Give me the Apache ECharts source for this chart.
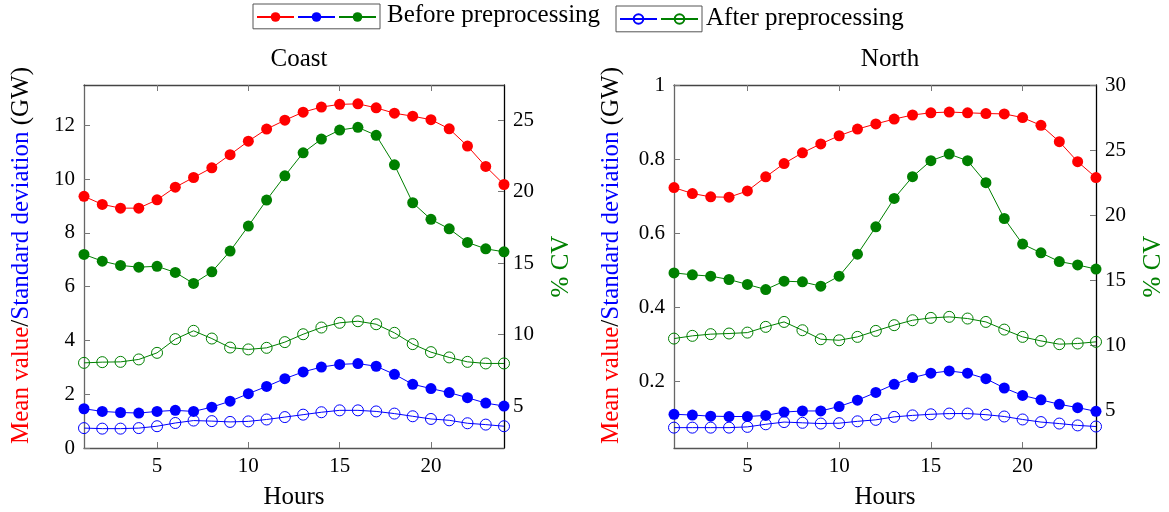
<!DOCTYPE html>
<html>
<head>
<meta charset="utf-8">
<style>
  html, body { margin: 0; padding: 0; background: #fff; }
  #chart { width: 1169px; height: 512px; }
</style>
<script src="https://cdn.jsdelivr.net/npm/echarts@6/dist/echarts.min.js"></script>
</head>
<body>
<div id="chart"></div>
<script>
// Hours of the day
const hours = [1, 2, 3, 4, 5, 6, 7, 8, 9, 10, 11, 12, 13, 14, 15, 16, 17, 18, 19, 20, 21, 22, 23, 24];

// Coast region (GW and % CV)
const coastMean      = [9.36, 9.06, 8.92, 8.92, 9.23, 9.70, 10.06, 10.42, 10.91, 11.41, 11.86, 12.19, 12.49, 12.68, 12.78, 12.80, 12.65, 12.45, 12.34, 12.21, 11.87, 11.23, 10.47, 9.80];
const coastStdBefore = [1.46, 1.36, 1.32, 1.30, 1.36, 1.40, 1.36, 1.52, 1.74, 2.02, 2.29, 2.58, 2.83, 3.01, 3.11, 3.14, 3.04, 2.74, 2.37, 2.21, 2.06, 1.87, 1.67, 1.56];
const coastStdAfter  = [0.74, 0.72, 0.72, 0.74, 0.81, 0.93, 1.02, 1.00, 0.97, 0.99, 1.06, 1.15, 1.24, 1.33, 1.40, 1.40, 1.36, 1.28, 1.18, 1.08, 1.03, 0.92, 0.87, 0.81];
const coastCvBefore  = [15.61, 15.14, 14.84, 14.72, 14.78, 14.35, 13.58, 14.39, 15.84, 17.59, 19.41, 21.10, 22.71, 23.67, 24.30, 24.49, 23.93, 21.87, 19.22, 18.06, 17.40, 16.45, 16.00, 15.79];
const coastCvAfter   = [8.03, 8.08, 8.10, 8.27, 8.73, 9.69, 10.27, 9.73, 9.10, 8.97, 9.08, 9.48, 10.03, 10.50, 10.83, 10.94, 10.73, 10.13, 9.34, 8.78, 8.41, 8.10, 7.99, 7.99];

// North region (GW and % CV)
const northMean      = [0.723, 0.707, 0.698, 0.697, 0.714, 0.752, 0.788, 0.817, 0.841, 0.863, 0.881, 0.895, 0.908, 0.919, 0.925, 0.927, 0.925, 0.923, 0.922, 0.912, 0.891, 0.847, 0.793, 0.750];
const northStdBefore = [0.111, 0.109, 0.106, 0.105, 0.105, 0.108, 0.117, 0.120, 0.120, 0.132, 0.149, 0.170, 0.192, 0.210, 0.222, 0.228, 0.222, 0.207, 0.182, 0.162, 0.150, 0.138, 0.129, 0.119];
const northStdAfter  = [0.075, 0.075, 0.075, 0.075, 0.077, 0.084, 0.090, 0.088, 0.086, 0.087, 0.092, 0.096, 0.104, 0.108, 0.111, 0.113, 0.113, 0.110, 0.105, 0.097, 0.090, 0.086, 0.081, 0.078];
const northCvBefore  = [15.56, 15.41, 15.31, 15.05, 14.67, 14.28, 14.92, 14.87, 14.54, 15.31, 17.00, 19.10, 21.28, 22.95, 24.18, 24.69, 24.18, 22.49, 19.74, 17.77, 17.10, 16.43, 16.17, 15.85];
const northCvAfter   = [10.51, 10.72, 10.85, 10.90, 10.97, 11.41, 11.79, 11.15, 10.46, 10.38, 10.64, 11.10, 11.54, 11.92, 12.10, 12.18, 12.05, 11.79, 11.20, 10.64, 10.33, 10.08, 10.13, 10.26];

// Tick labels
const hourTicks     = [5, 10, 15, 20];
const coastGwTicks  = [0, 2, 4, 6, 8, 10, 12];
const coastCvTicks  = [5, 10, 15, 20, 25];
const northGwTicks  = [0.2, 0.4, 0.6, 0.8, 1];
const northCvTicks  = [5, 10, 15, 20, 25, 30];

const FONT = 'Liberation Serif';
const TXT = 25;   // titles, axis names, legend labels
const TICK = 21;  // tick labels
const RED = '#ff0000', BLUE = '#0000ff', GREEN = '#008000';

const NAMES = {
  mean: 'Mean value (before)',
  stdB: 'Standard deviation (before)',
  cvB: '% CV (before)',
  stdA: 'Standard deviation (after)',
  cvA: '% CV (after)'
};

function pairs(ys) { return hours.map((h, i) => [h, ys[i]]); }

function xAxes(gridIndex) {
  const base = {
    type: 'value', gridIndex, min: 1, max: 24,
    splitLine: { show: false },
    axisTick: { show: true, inside: true, length: 6, customValues: hourTicks, lineStyle: { color: '#777', width: 1 } }
  };
  return [
    Object.assign({}, base, {
      position: 'bottom',
      name: 'Hours', nameLocation: 'middle', nameGap: 37,
      nameTextStyle: { fontFamily: FONT, fontSize: TXT, color: '#000' },
      axisLine: { show: true, lineStyle: { color: '#555', width: 1.3 } },
      axisLabel: { show: true, customValues: hourTicks, margin: 8, fontFamily: FONT, fontSize: TICK, color: '#000' }
    }),
    Object.assign({}, base, {
      position: 'top',
      axisLine: { show: true, lineStyle: { color: '#444', width: 1.3 } },
      axisLabel: { show: false }
    })
  ];
}

function yAxes(gridIndex, gw, cv, gwTicks, cvTicks) {
  return [
    {
      type: 'value', gridIndex, position: 'left', min: gw[0], max: gw[1],
      splitLine: { show: false },
      axisLine: { show: true, lineStyle: { color: '#666', width: 1.3 } },
      axisTick: { show: true, inside: true, length: 6, customValues: gwTicks, lineStyle: { color: '#777' } },
      axisLabel: { customValues: gwTicks, margin: 9, fontFamily: FONT, fontSize: TICK, color: '#000' },
      name: '{r|Mean value}{k|/}{b|Standard deviation}{k| (GW)}',
      nameLocation: 'middle', nameGap: 50, nameRotate: 90,
      nameTextStyle: {
        fontFamily: FONT, fontSize: TXT,
        padding: [0, 0, 0, 22],
        rich: {
          r: { color: RED, fontFamily: FONT, fontSize: TXT },
          b: { color: BLUE, fontFamily: FONT, fontSize: TXT },
          k: { color: '#000', fontFamily: FONT, fontSize: TXT }
        }
      }
    },
    {
      type: 'value', gridIndex, position: 'right', min: cv[0], max: cv[1],
      splitLine: { show: false },
      axisLine: { show: true, lineStyle: { color: '#000', width: 1.3 } },
      axisTick: { show: true, inside: true, length: 6, customValues: cvTicks, lineStyle: { color: '#777' } },
      axisLabel: { customValues: cvTicks, margin: 9, fontFamily: FONT, fontSize: TICK, color: '#000' },
      name: '% CV', nameLocation: 'middle', nameGap: 45, nameRotate: 90,
      nameTextStyle: { fontFamily: FONT, fontSize: TXT, color: GREEN }
    }
  ];
}

function filled(name, color, data, xi, yi) {
  return {
    type: 'line', name, xAxisIndex: xi, yAxisIndex: yi, data: pairs(data),
    symbol: 'circle', symbolSize: 11, animation: false,
    lineStyle: { color, width: 1 },
    itemStyle: { color }
  };
}
function hollow(name, color, data, xi, yi) {
  return {
    type: 'line', name, xAxisIndex: xi, yAxisIndex: yi, data: pairs(data),
    symbol: 'circle', symbolSize: 11, animation: false,
    lineStyle: { color, width: 1 },
    itemStyle: { color: 'rgba(0,0,0,0)', borderColor: color, borderWidth: 1 }
  };
}

function regionSeries(xi, yl, yr, mean, stdB, cvB, stdA, cvA) {
  return [
    filled(NAMES.mean, RED, mean, xi, yl),
    filled(NAMES.stdB, BLUE, stdB, xi, yl),
    filled(NAMES.cvB, GREEN, cvB, xi, yr),
    hollow(NAMES.stdA, BLUE, stdA, xi, yl),
    hollow(NAMES.cvA, GREEN, cvA, xi, yr)
  ];
}

const legendBase = {
  orient: 'horizontal', itemWidth: 37, itemHeight: 12, itemGap: 2,
  borderColor: '#555', borderWidth: 1, borderRadius: 0,
  padding: [7, 3, 7, 3],
  formatter: () => '',
  selectedMode: false,
  textStyle: { fontSize: 1 }
};

const chart = echarts.init(document.getElementById('chart'), null, { renderer: 'canvas' });
chart.setOption({
  backgroundColor: '#fff',
  animation: false,
  title: [
    { text: 'Coast', left: 294, top: 42, textAlign: 'center',
      textStyle: { fontFamily: FONT, fontSize: TXT, fontWeight: 'normal', color: '#000' } },
    { text: 'North', left: 885, top: 42, textAlign: 'center',
      textStyle: { fontFamily: FONT, fontSize: TXT, fontWeight: 'normal', color: '#000' } }
  ],
  legend: [
    Object.assign({}, legendBase, { left: 253, top: 4, data: [NAMES.mean, NAMES.stdB, NAMES.cvB] }),
    Object.assign({}, legendBase, { left: 616, top: 6, data: [NAMES.stdA, NAMES.cvA] })
  ],
  graphic: [
    { type: 'text', left: 387, top: 3,
      style: { text: 'Before preprocessing', fontFamily: FONT, fontSize: TXT, fill: '#000' } },
    { type: 'text', left: 706, top: 6,
      style: { text: 'After preprocessing', fontFamily: FONT, fontSize: TXT, fill: '#000' } }
  ],
  grid: [
    { left: 84, top: 85, width: 420, height: 363, outerBoundsMode: 'none' },
    { left: 674, top: 85, width: 422, height: 363, outerBoundsMode: 'none' }
  ],
  xAxis: [].concat(xAxes(0), xAxes(1)),
  yAxis: [].concat(
    yAxes(0, [0, 13.5], [2.08, 27.45], coastGwTicks, coastCvTicks),
    yAxes(1, [0.02, 1], [2.1, 30], northGwTicks, northCvTicks)
  ),
  series: [].concat(
    regionSeries(0, 0, 1, coastMean, coastStdBefore, coastCvBefore, coastStdAfter, coastCvAfter),
    regionSeries(2, 2, 3, northMean, northStdBefore, northCvBefore, northStdAfter, northCvAfter)
  )
});
</script>
</body>
</html>
